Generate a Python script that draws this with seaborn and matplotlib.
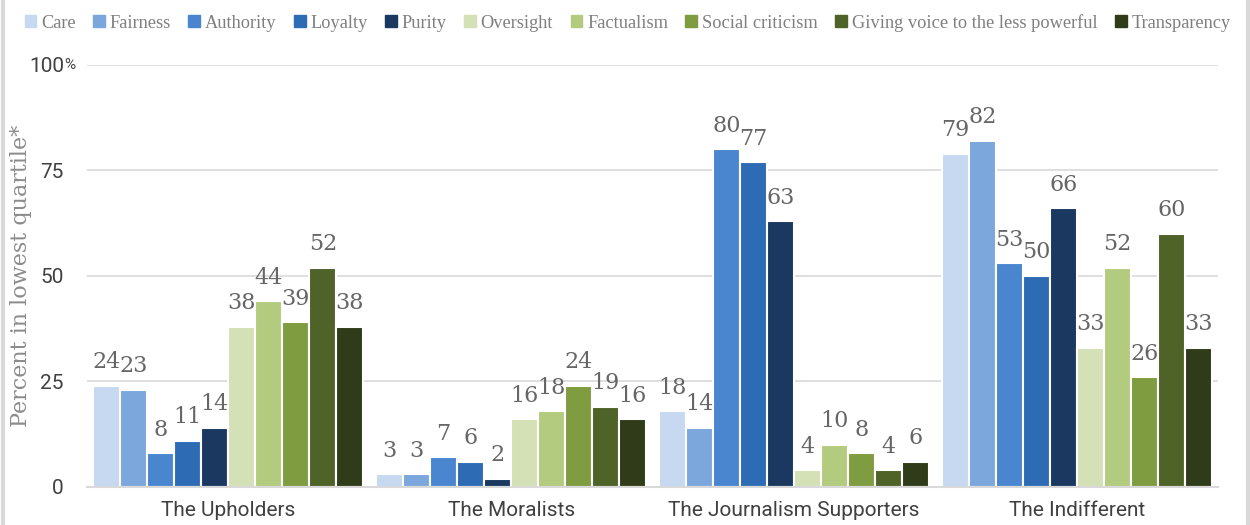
import pandas as pd
import matplotlib.pyplot as plt
import seaborn as sns

groups = ['The Upholders', 'The Moralists', 'The Journalism Supporters', 'The Indifferent']
series = ['Care', 'Fairness', 'Authority', 'Loyalty', 'Purity', 'Oversight',
          'Factualism', 'Social criticism', 'Giving voice to the less powerful', 'Transparency']
colors = ['#C6D9F0', '#7BA7DD', '#4A86D0', '#2E6BB5', '#1A3860',
          '#D4E0B6', '#B3CB7F', '#7F9C40', '#4F6228', '#2F3B19']
values = {
    'Care': [24, 3, 18, 79],
    'Fairness': [23, 3, 14, 82],
    'Authority': [8, 7, 80, 53],
    'Loyalty': [11, 6, 77, 50],
    'Purity': [14, 2, 63, 66],
    'Oversight': [38, 16, 4, 33],
    'Factualism': [44, 18, 10, 52],
    'Social criticism': [39, 24, 8, 26],
    'Giving voice to the less powerful': [52, 19, 4, 60],
    'Transparency': [38, 16, 6, 33],
}

rows = []
for s in series:
    for g, v in zip(groups, values[s]):
        rows.append({'group': g, 'series': s, 'value': v})
df = pd.DataFrame(rows)

sns.set_style('white')
fig = plt.figure(figsize=(12.5, 5.25), dpi=100)
ax = fig.add_axes([0.0695, 0.0724, 0.905, 0.8038])

sns.barplot(data=df, x='group', y='value', hue='series', hue_order=series,
            palette=colors, saturation=1, width=0.955, edgecolor='white', linewidth=1.5,
            ax=ax, legend=False)

for cont in ax.containers:
    ax.bar_label(cont, fmt='%d', padding=9, fontsize=16, color='#666666',
                 family='DejaVu Serif')

ax.set_ylim(0, 100)
ax.set_xlim(-0.5, 3.5)
ax.set_yticks([0, 25, 50, 75, 100])
ax.set_yticklabels(['0', '25', '50', '75', '100'], fontsize=15, color='#404040', family='Roboto')
ax.annotate('%', xy=(0, 100), xycoords=('axes fraction', 'data'), xytext=(-16.5, 0),
            textcoords='offset points', fontsize=11, color='#404040',
            ha='left', va='center', family='Roboto')
ax.tick_params(axis='y', length=0, pad=16.5)
ax.tick_params(axis='x', length=0, pad=10, labelsize=15, labelcolor='#404040')
for lab in ax.get_xticklabels():
    lab.set_family('Roboto')
ax.yaxis.grid(True, color='#d9d9d9', linewidth=1.2)
ax.set_axisbelow(True)
for sp in ['top', 'right', 'left']:
    ax.spines[sp].set_visible(False)
ax.spines['bottom'].set_color('#d9d9d9')
ax.spines['bottom'].set_linewidth(1.5)
ax.set_xlabel('')
ax.set_ylabel('Percent in lowest quartile*', fontsize=16, color='#8c8c8c',
              family='DejaVu Serif', labelpad=0)
ax.yaxis.set_label_coords(-0.0485, 0.5)

handles = [plt.Rectangle((0, 0), 1, 1, color=c) for c in colors]
fig.legend(handles, series, loc='upper center', bbox_to_anchor=(0.502, 1.005), ncol=10,
           frameon=False, handlelength=0.65, handleheight=0.65, handletextpad=0.25,
           columnspacing=0.95, prop={'family': 'Liberation Serif', 'size': 13.2},
           labelcolor='#7f7f7f')

fig.add_artist(plt.Line2D([0.002, 0.002], [0, 1], color='#d9d9d9', linewidth=3))
fig.add_artist(plt.Line2D([0.998, 0.998], [0, 1], color='#d9d9d9', linewidth=3))

fig.savefig('out.png', dpi=100)
